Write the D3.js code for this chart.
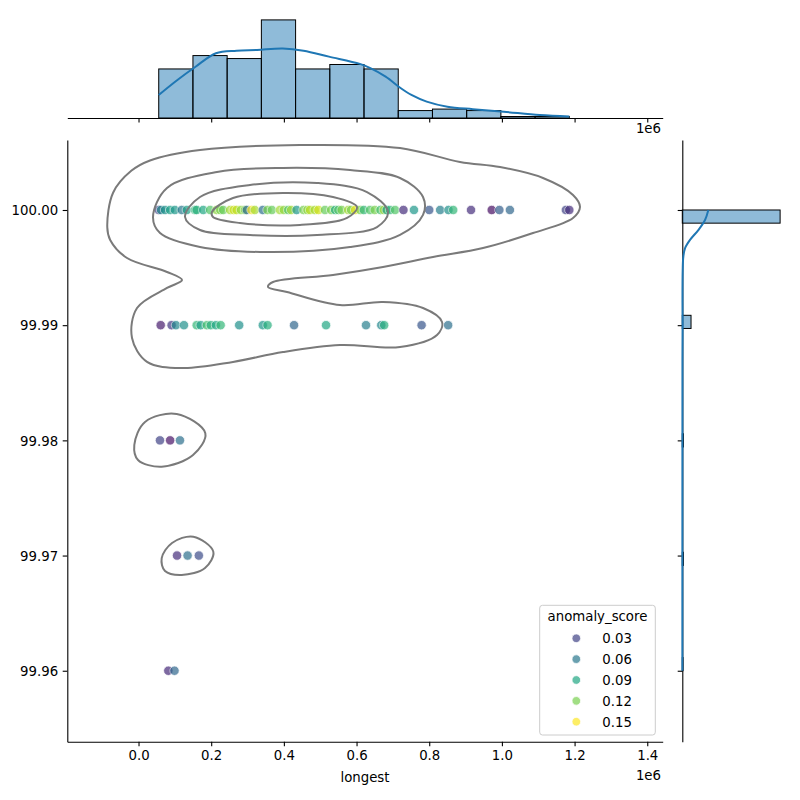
<!DOCTYPE html>
<html>
<head>
<meta charset="utf-8">
<script src="https://cdn.jsdelivr.net/npm/d3@7"></script>
<style>
    body { margin: 0; background: #fff; }
    svg { display: block; }
    text { font-family: "DejaVu Sans", sans-serif; font-size: 13.3px; fill: #000; }
</style>
</head>
<body>
<svg id="chart" width="800" height="800"></svg>
<script>
// Scatter rows: [longest (x 1e6), anomaly_score]
const row100 = [
    [0.0556, 0.03], [0.062, 0.07], [0.073, 0.075], [0.087, 0.085], [0.100, 0.08],
    [0.119, 0.06], [0.133, 0.085], [0.155, 0.10], [0.160, 0.095], [0.178, 0.09],
    [0.197, 0.11], [0.215, 0.125], [0.225, 0.12], [0.233, 0.115], [0.252, 0.13],
    [0.262, 0.14], [0.270, 0.135], [0.282, 0.125], [0.293, 0.12], [0.298, 0.05],
    [0.311, 0.15], [0.320, 0.13], [0.342, 0.055], [0.355, 0.12], [0.367, 0.115],
    [0.389, 0.13], [0.400, 0.125], [0.412, 0.11], [0.420, 0.13], [0.435, 0.08],
    [0.454, 0.12], [0.465, 0.125], [0.472, 0.135], [0.485, 0.13], [0.495, 0.14],
    [0.513, 0.115], [0.530, 0.12], [0.541, 0.095], [0.550, 0.11], [0.559, 0.12],
    [0.577, 0.13], [0.585, 0.12], [0.596, 0.145], [0.610, 0.12], [0.620, 0.10],
    [0.637, 0.11], [0.650, 0.12], [0.666, 0.105], [0.675, 0.13], [0.683, 0.085],
    [0.692, 0.10], [0.706, 0.11], [0.729, 0.02], [0.758, 0.08], [0.800, 0.04],
    [0.830, 0.065], [0.853, 0.075], [0.866, 0.10], [0.915, 0.02], [0.972, 0.006],
    [0.993, 0.045], [1.022, 0.05], [1.176, 0.03], [1.1855, 0.02]
];
const row9999 = [
    [0.061, 0.012], [0.091, 0.025], [0.103, 0.07], [0.125, 0.075], [0.160, 0.10],
    [0.171, 0.085], [0.188, 0.105], [0.199, 0.095], [0.213, 0.09], [0.226, 0.10],
    [0.277, 0.075], [0.342, 0.08], [0.355, 0.095], [0.428, 0.05], [0.516, 0.09],
    [0.626, 0.065], [0.668, 0.07], [0.676, 0.095], [0.779, 0.04], [0.852, 0.055]
];
const row9998 = [[0.059, 0.03], [0.087, 0.008], [0.114, 0.055]];
const row9997 = [[0.106, 0.02], [0.135, 0.055], [0.166, 0.035]];
const row9996 = [[0.082, 0.018], [0.099, 0.05]];

const rowLevels = [100.00, 99.99, 99.98, 99.97, 99.96];
const rowPoints = [row100, row9999, row9998, row9997, row9996];

const xTicks = [0.0, 0.2, 0.4, 0.6, 0.8, 1.0, 1.2, 1.4];
const yTicks = [99.96, 99.97, 99.98, 99.99, 100.00];
const legendScores = [0.03, 0.06, 0.09, 0.12, 0.15];

// Marginal histograms
const xBinStart = 0.0556;
const xBinWidth = 0.09416;
const xBinCounts = [33, 42, 40, 66, 33, 36, 33, 5, 6, 5, 1, 1];
const yLevelCounts = [269, 24, 3, 3, 2];
const yBinCount = 35;

// Marginal KDE curves, in count units
const xKde = [
    [0.0556, 15.5], [0.107, 25.6], [0.157, 34.5], [0.213, 43.6], [0.270, 45.3],
    [0.326, 45.8], [0.397, 46.7], [0.454, 45.3], [0.524, 41.3], [0.609, 36.4],
    [0.638, 33.5], [0.680, 27.8], [0.722, 20.0], [0.751, 15.5], [0.793, 11.0],
    [0.850, 7.6], [0.920, 5.9], [1.005, 4.2], [1.104, 2.0], [1.1855, 1.0]
];
const yKde = [
    [100.0, 71.6], [99.99913, 62.5], [99.99826, 44.1], [99.9974, 21.2], [99.99667, 7.4],
    [99.99594, 2.8], [99.99479, 1.1], [99.992, 0.5], [99.99, 0.8], [99.987, 0.4],
    [99.98, 0.3], [99.97, 0.2], [99.96, 0.15]
];

// Joint KDE contour lines, [longest, pct]
const contourOuter = [
    [-0.0860, 99.99850], [-0.0700, 100.00150], [-0.0200, 100.00340], [0.0316, 100.00430],
    [0.1692, 100.00521], [0.4444, 100.00564], [0.7196, 100.00538], [0.8847, 100.00417],
    [0.9948, 100.00373], [1.1131, 100.00278], [1.1957, 100.00130], [1.2149, 100.00026],
    [1.1957, 99.99931], [1.0856, 99.99800], [0.9480, 99.99670], [0.8104, 99.99592],
    [0.6728, 99.99505], [0.5352, 99.99436], [0.3701, 99.99375], [0.3563, 99.99332],
    [0.4086, 99.99288], [0.5545, 99.99175], [0.6728, 99.99201], [0.7829, 99.99149],
    [0.8352, 99.99028], [0.8214, 99.98915], [0.7196, 99.98811], [0.5545, 99.98828],
    [0.3976, 99.98767], [0.2600, 99.98681], [0.1225, 99.98628], [0.0234, 99.98681],
    [-0.0179, 99.98889], [-0.0041, 99.99149], [0.0784, 99.99323], [0.1197, 99.99392],
    [0.0784, 99.99462], [-0.0316, 99.99583], [-0.0780, 99.99740]
];
const contourSecond = [
    [0.0399, 99.99939], [0.0784, 100.00191], [0.2160, 100.00330], [0.3976, 100.00365],
    [0.5820, 100.00347], [0.7196, 100.00278], [0.7829, 100.00113], [0.7829, 99.99957],
    [0.7196, 99.99783], [0.5820, 99.99679], [0.3536, 99.99635], [0.1692, 99.99679],
    [0.0592, 99.99800]
];
const contourThird = [
    [0.1280, 99.99939], [0.1692, 100.00113], [0.3068, 100.00217], [0.4912, 100.00234],
    [0.6288, 100.00156], [0.6866, 99.99983], [0.6563, 99.99852], [0.4912, 99.99783],
    [0.3068, 99.99783], [0.1692, 99.99826]
];
const contourInner = [
    [0.2023, 99.99983], [0.2600, 100.00104], [0.3976, 100.00148], [0.5352, 100.00113],
    [0.6013, 100.00026], [0.5738, 99.99931], [0.4444, 99.99870], [0.2793, 99.99887],
    [0.2050, 99.99939]
];
const contour9998 = [
    [-0.0116, 99.97960], [0.0179, 99.98160], [0.1051, 99.98229], [0.1838, 99.98062],
    [0.1500, 99.97873], [0.0638, 99.97772], [-0.0014, 99.97830]
];
const contour9997 = [
    [0.0638, 99.96977], [0.0922, 99.97109], [0.1508, 99.97164], [0.2058, 99.97034],
    [0.1830, 99.96892], [0.1189, 99.96832], [0.0729, 99.96866]
];
const contours = [contourOuter, contourSecond, contourThird, contourInner, contour9998, contour9997];

let svg = d3.select("#chart");

let scale = {
    x: d3.scaleLinear().domain([-0.196, 1.4425]).range([67.3, 662.7]),
    y: d3.scaleLinear().domain([99.95384, 100.006076]).range([741.7, 140]),
    topCount: d3.scaleLinear().domain([0, d3.max(xBinCounts) * 1.05]).range([118, 15]),
    rightCount: d3.scaleLinear().domain([0, d3.max(yLevelCounts) * 1.05]).range([682.3, 785]),
    color: d3.scaleSequential(d3.interpolateViridis).domain([0.0, 0.15])
};

const tickLen = 4.6;
const axisColor = "#000";

function styleAxis(g) {
    g.attr("font-size", null).attr("font-family", null);
    g.selectAll(".tick line").attr("stroke", axisColor).attr("stroke-width", 1.1);
    g.select(".domain").attr("stroke", axisColor).attr("stroke-width", 1.1);
}

// ---- main axes ----
let mainAxes = svg.append("g");

mainAxes.append("g")
    .attr("transform", `translate(0, ${scale.y.range()[0]})`)
    .call(d3.axisBottom(scale.x).tickValues(xTicks).tickFormat(d3.format(".1f"))
        .tickSize(tickLen).tickSizeOuter(0).tickPadding(4.6))
    .call(styleAxis);

mainAxes.append("g")
    .attr("transform", `translate(${scale.x.range()[0]}, 0)`)
    .call(d3.axisLeft(scale.y).tickValues(yTicks).tickFormat(d3.format(".2f"))
        .tickSize(tickLen).tickSizeOuter(0).tickPadding(4.6))
    .call(styleAxis)
    .selectAll(".tick text").attr("dy", "0.36em");

mainAxes.append("text")
    .attr("x", (scale.x.range()[0] + scale.x.range()[1]) / 2)
    .attr("y", 781.5)
    .attr("text-anchor", "middle")
    .text("longest");

mainAxes.append("text")
    .attr("x", 661)
    .attr("y", 780)
    .attr("text-anchor", "end")
    .text("1e6");

// scatter points
let points = [];
rowPoints.forEach((row, i) => row.forEach(d => points.push({x: d[0], y: rowLevels[i], s: d[1]})));

mainAxes.append("g")
    .selectAll("circle")
    .data(points)
    .enter()
    .append("circle")
    .attr("cx", d => scale.x(d.x))
    .attr("cy", d => scale.y(d.y))
    .attr("r", 4.7)
    .attr("fill", d => scale.color(d.s))
    .attr("stroke", "#fff")
    .attr("stroke-width", 0.75)
    .attr("opacity", 0.7);

// joint KDE contours
let contourLine = d3.line()
    .x(d => scale.x(d[0]))
    .y(d => scale.y(d[1]))
    .curve(d3.curveCatmullRomClosed);

mainAxes.append("g")
    .selectAll("path")
    .data(contours)
    .enter()
    .append("path")
    .attr("d", contourLine)
    .attr("fill", "none")
    .attr("stroke", "#7a7a7a")
    .attr("stroke-width", 2);

// legend
let legend = mainAxes.append("g");
legend.append("rect")
    .attr("x", 539.7).attr("y", 605.3)
    .attr("width", 115.6).attr("height", 129.7)
    .attr("rx", 2.8)
    .attr("fill", "#fff").attr("fill-opacity", 0.8)
    .attr("stroke", "#cccccc").attr("stroke-width", 1);
legend.append("text")
    .attr("x", 597.5).attr("y", 620.8)
    .attr("text-anchor", "middle")
    .text("anomaly_score");
let items = legend.selectAll(".item")
    .data(legendScores)
    .enter()
    .append("g")
    .attr("class", "item")
    .attr("transform", (d, i) => `translate(0, ${638.3 + i * 20.85})`);
items.append("circle")
    .attr("cx", 576.3).attr("cy", 0).attr("r", 4.3)
    .attr("fill", d => scale.color(d))
    .attr("stroke", "#fff").attr("stroke-width", 0.75)
    .attr("opacity", 0.7);
items.append("text")
    .attr("x", 602.3).attr("y", 4.8)
    .text(d => d3.format(".2f")(d));

// ---- top marginal ----
let topMargin = svg.append("g");

topMargin.append("g")
    .attr("transform", `translate(0, ${scale.topCount(0)})`)
    .call(d3.axisBottom(scale.x).tickValues(xTicks).tickFormat("")
        .tickSize(tickLen).tickSizeOuter(0))
    .call(styleAxis);

topMargin.append("text")
    .attr("x", 661)
    .attr("y", 133.3)
    .attr("text-anchor", "end")
    .text("1e6");

topMargin.append("g")
    .selectAll("rect")
    .data(xBinCounts)
    .enter()
    .append("rect")
    .attr("x", (d, i) => scale.x(xBinStart + i * xBinWidth))
    .attr("width", (d, i) => scale.x(xBinStart + (i + 1) * xBinWidth) - scale.x(xBinStart + i * xBinWidth))
    .attr("y", d => scale.topCount(d))
    .attr("height", d => scale.topCount(0) - scale.topCount(d))
    .attr("fill", "#1f77b4").attr("fill-opacity", 0.5)
    .attr("stroke", "#000").attr("stroke-width", 1);

topMargin.append("path")
    .datum(xKde)
    .attr("d", d3.line().x(d => scale.x(d[0])).y(d => scale.topCount(d[1])).curve(d3.curveCatmullRom))
    .attr("fill", "none")
    .attr("stroke", "#1f77b4")
    .attr("stroke-width", 2);

// ---- right marginal ----
let rightMargin = svg.append("g");

rightMargin.append("g")
    .attr("transform", `translate(${scale.rightCount(0)}, 0)`)
    .call(d3.axisLeft(scale.y).tickValues(yTicks).tickFormat("")
        .tickSize(tickLen).tickSizeOuter(0))
    .call(styleAxis);

let yMin = d3.min(rowLevels);
let yBinWidth = (d3.max(rowLevels) - yMin) / yBinCount;
let yBins = rowLevels.map((lvl, i) => {
    let idx = Math.min(yBinCount - 1, Math.floor((lvl - yMin) / yBinWidth));
    return {y0: yMin + idx * yBinWidth, y1: yMin + (idx + 1) * yBinWidth, count: yLevelCounts[i]};
});

rightMargin.append("g")
    .selectAll("rect")
    .data(yBins)
    .enter()
    .append("rect")
    .attr("x", scale.rightCount(0))
    .attr("width", d => scale.rightCount(d.count) - scale.rightCount(0))
    .attr("y", d => scale.y(d.y1))
    .attr("height", d => scale.y(d.y0) - scale.y(d.y1))
    .attr("fill", "#1f77b4").attr("fill-opacity", 0.5)
    .attr("stroke", "#000").attr("stroke-width", 1);

rightMargin.append("path")
    .datum(yKde)
    .attr("d", d3.line().x(d => scale.rightCount(d[1])).y(d => scale.y(d[0])).curve(d3.curveCatmullRom))
    .attr("fill", "none")
    .attr("stroke", "#1f77b4")
    .attr("stroke-width", 2);
</script>
</body>
</html>
